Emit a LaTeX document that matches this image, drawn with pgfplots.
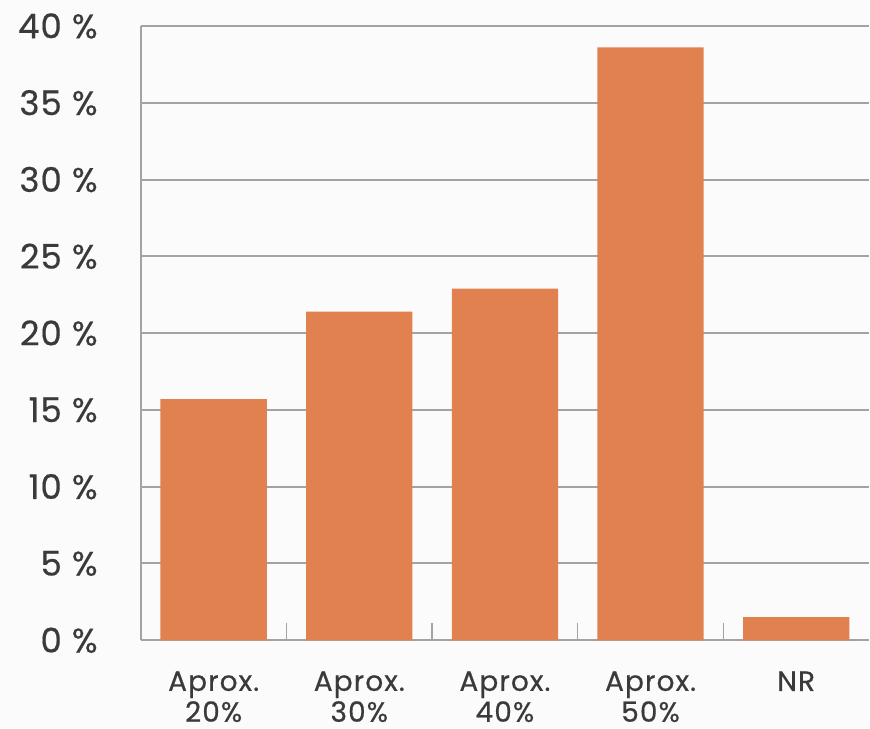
\documentclass[border=0pt]{standalone}
\usepackage{pgfplots}
\pgfplotsset{compat=1.18}
\usepackage{fontspec}
\setmainfont{Poppins}[FakeBold=0.5]
\definecolor{barorange}{HTML}{E0814F}
\definecolor{gridgray}{HTML}{A3A3A3}
\definecolor{txt}{HTML}{3A3A3A}
\definecolor{bg}{HTML}{FBFBFB}
\begin{document}
\begin{tikzpicture}[x=1pt,y=1pt]
\fill[bg] (0,0) rectangle (870,729);
\begin{axis}[
  at={(141pt,88pt)}, anchor=south west,
  scale only axis, width=729pt, height=615pt,
  xmin=-0.5, xmax=4.5, ymin=0, ymax=40,
  axis x line*=bottom, axis y line*=left,
  axis line style={gridgray, line width=2pt},
  ymajorgrids, grid style={gridgray, line width=2pt},
  major tick length=0pt,
  ytick={0,5,...,40},
  yticklabels={0 \%,5 \%,10 \%,15 \%,20 \%,25 \%,30 \%,35 \%,40 \%},
  yticklabel style={font=\fontsize{34}{40}\selectfont\addfontfeature{LetterSpace=3}, text=txt, anchor=east, inner sep=0pt, xshift=-43pt},
  xtick={0,1,2,3,4},
  xticklabels={Aprox.\\20\%,Aprox.\\30\%,Aprox.\\40\%,Aprox.\\50\%,NR},
  xticklabel style={font=\fontsize{28}{31}\selectfont\addfontfeature{LetterSpace=4}, text=txt, anchor=north, align=center, inner sep=0pt, yshift=-31pt},
  extra x ticks={0.5,1.5,2.5,3.5},
  extra x tick labels={},
  extra x tick style={major tick length=17pt, xtick align=inside, tick style={gridgray, line width=1.4pt}, grid=none},
  ybar, bar width=0.73,
]
\addplot[fill=barorange, draw=none] coordinates {(0,15.7) (1,21.4) (2,22.9) (3,38.6) (4,1.5)};
\end{axis}
\end{tikzpicture}
\end{document}
